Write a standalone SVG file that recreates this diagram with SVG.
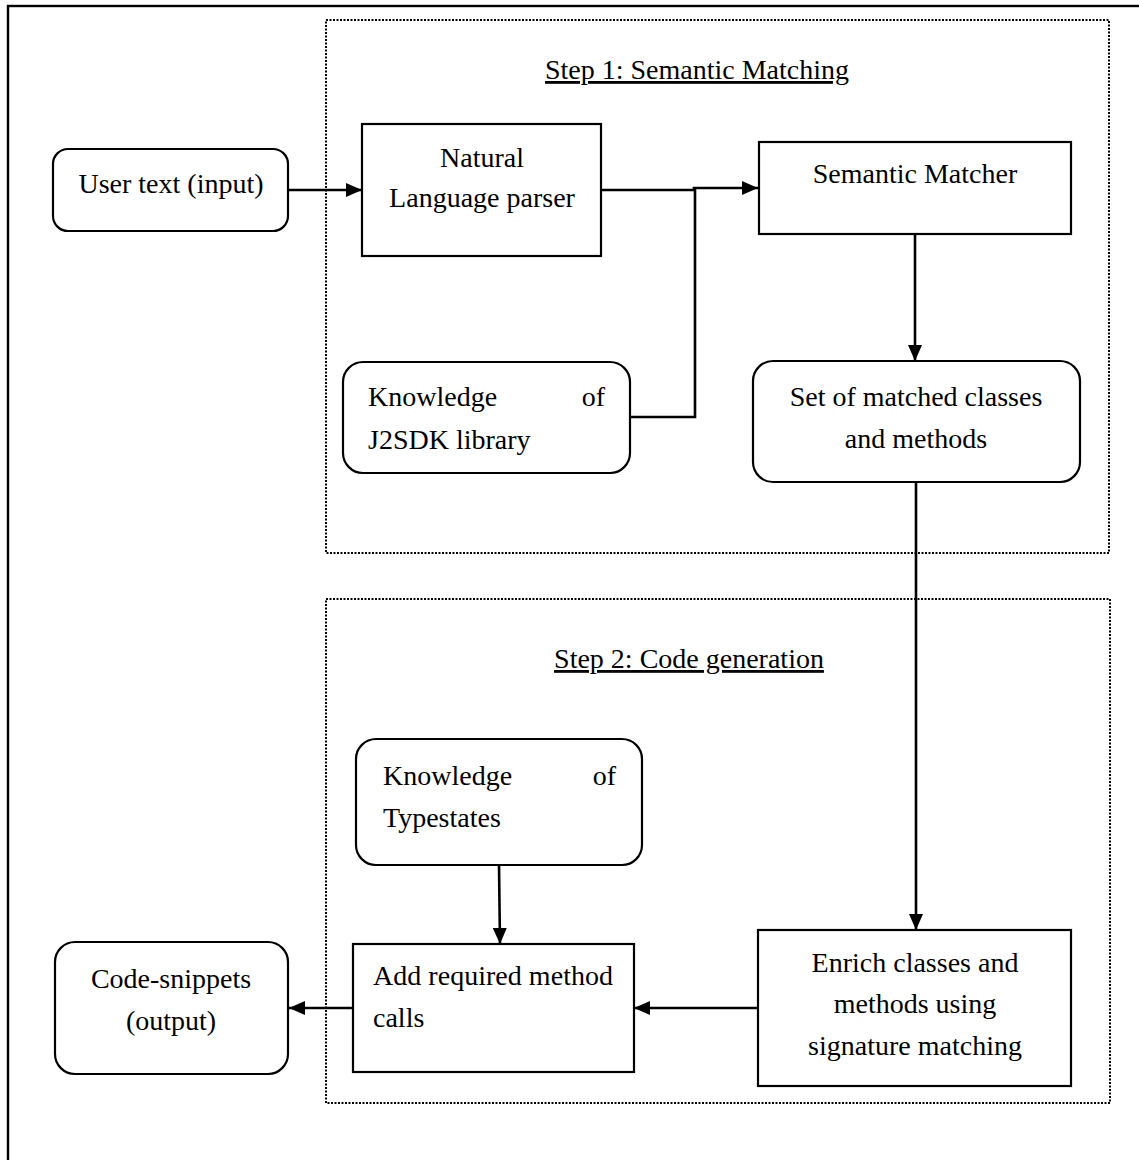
<svg xmlns="http://www.w3.org/2000/svg" width="1139" height="1160" viewBox="0 0 1139 1160">
<defs>
<marker id="ah" viewBox="0 0 16 14" refX="16" refY="7" markerWidth="16" markerHeight="14" markerUnits="userSpaceOnUse" orient="auto">
<path d="M0,0 L16,7 L0,14 Z" fill="#000"/>
</marker>
<style>
.box{fill:#fff;stroke:#000;stroke-width:2.2}
.grp{fill:none;stroke:#000;stroke-width:2;stroke-dasharray:2 1.5}
.ln{fill:none;stroke:#000;stroke-width:2.6}
.arr{fill:none;stroke:#000;stroke-width:2.6;marker-end:url(#ah)}
text{font-family:"Liberation Serif","Times New Roman",serif;font-size:28px;fill:#000}
.c{text-anchor:middle}
.e{text-anchor:end}
.u{text-decoration:underline}
</style>
</defs>
<rect width="1139" height="1160" fill="#fff"/>
<rect x="8" y="6" width="1140" height="1170" fill="none" stroke="#000" stroke-width="2.4"/>
<g id="step1">
<rect class="grp" x="326" y="20" width="783" height="533"/>
<text class="c u" x="697" y="79">Step 1: Semantic Matching</text>
</g>
<g id="step2">
<rect class="grp" x="326" y="599" width="784" height="504"/>
<text class="c u" x="689" y="668">Step 2: Code generation</text>
</g>
<g id="connectors">
<path class="arr" d="M288,190 L362,190"/>
<path class="arr" d="M601,190 L694,190 L694,188 L758,188"/>
<path class="ln" d="M630,417 L695,417 L695,188"/>
<path class="arr" d="M915,234 L915,361"/>
<path class="arr" d="M916,483 L916,930"/>
<path class="arr" d="M758,1008 L688,1008 L688,1008 L634,1008"/>
<path class="arr" d="M353,1008 L289,1008"/>
<path class="arr" d="M499,865 L500,944"/>
</g>
<g id="user-text">
<rect class="box" x="53" y="149" width="235" height="82" rx="15"/>
<text class="c" x="171" y="193">User text (input)</text>
</g>
<g id="nl-parser">
<rect class="box" x="362" y="124" width="239" height="132"/>
<text class="c" x="482" y="167">Natural</text>
<text class="c" x="482" y="207">Language parser</text>
</g>
<g id="semantic-matcher">
<rect class="box" x="759" y="142" width="312" height="92"/>
<text class="c" x="915" y="183">Semantic Matcher</text>
</g>
<g id="knowledge-j2sdk">
<rect class="box" x="343" y="362" width="287" height="111" rx="20"/>
<text x="368" y="406">Knowledge</text>
<text class="e" x="605" y="406">of</text>
<text x="368" y="449">J2SDK library</text>
</g>
<g id="matched-set">
<rect class="box" x="753" y="361" width="327" height="121" rx="20"/>
<text class="c" x="916" y="406">Set of matched classes</text>
<text class="c" x="916" y="448">and methods</text>
</g>
<g id="knowledge-typestates">
<rect class="box" x="356" y="739" width="286" height="126" rx="20"/>
<text x="383" y="785">Knowledge</text>
<text class="e" x="616" y="785">of</text>
<text x="383" y="827">Typestates</text>
</g>
<g id="enrich">
<rect class="box" x="758" y="930" width="313" height="156"/>
<text class="c" x="915" y="972">Enrich classes and</text>
<text class="c" x="915" y="1013">methods using</text>
<text class="c" x="915" y="1055">signature matching</text>
</g>
<g id="add-calls">
<rect class="box" x="353" y="944" width="281" height="128"/>
<text x="373" y="985" textLength="240" lengthAdjust="spacing">Add required method</text>
<text x="373" y="1027">calls</text>
</g>
<g id="code-snippets">
<rect class="box" x="55" y="942" width="233" height="132" rx="20"/>
<text class="c" x="171" y="988">Code-snippets</text>
<text class="c" x="171" y="1030">(output)</text>
</g>
</svg>
